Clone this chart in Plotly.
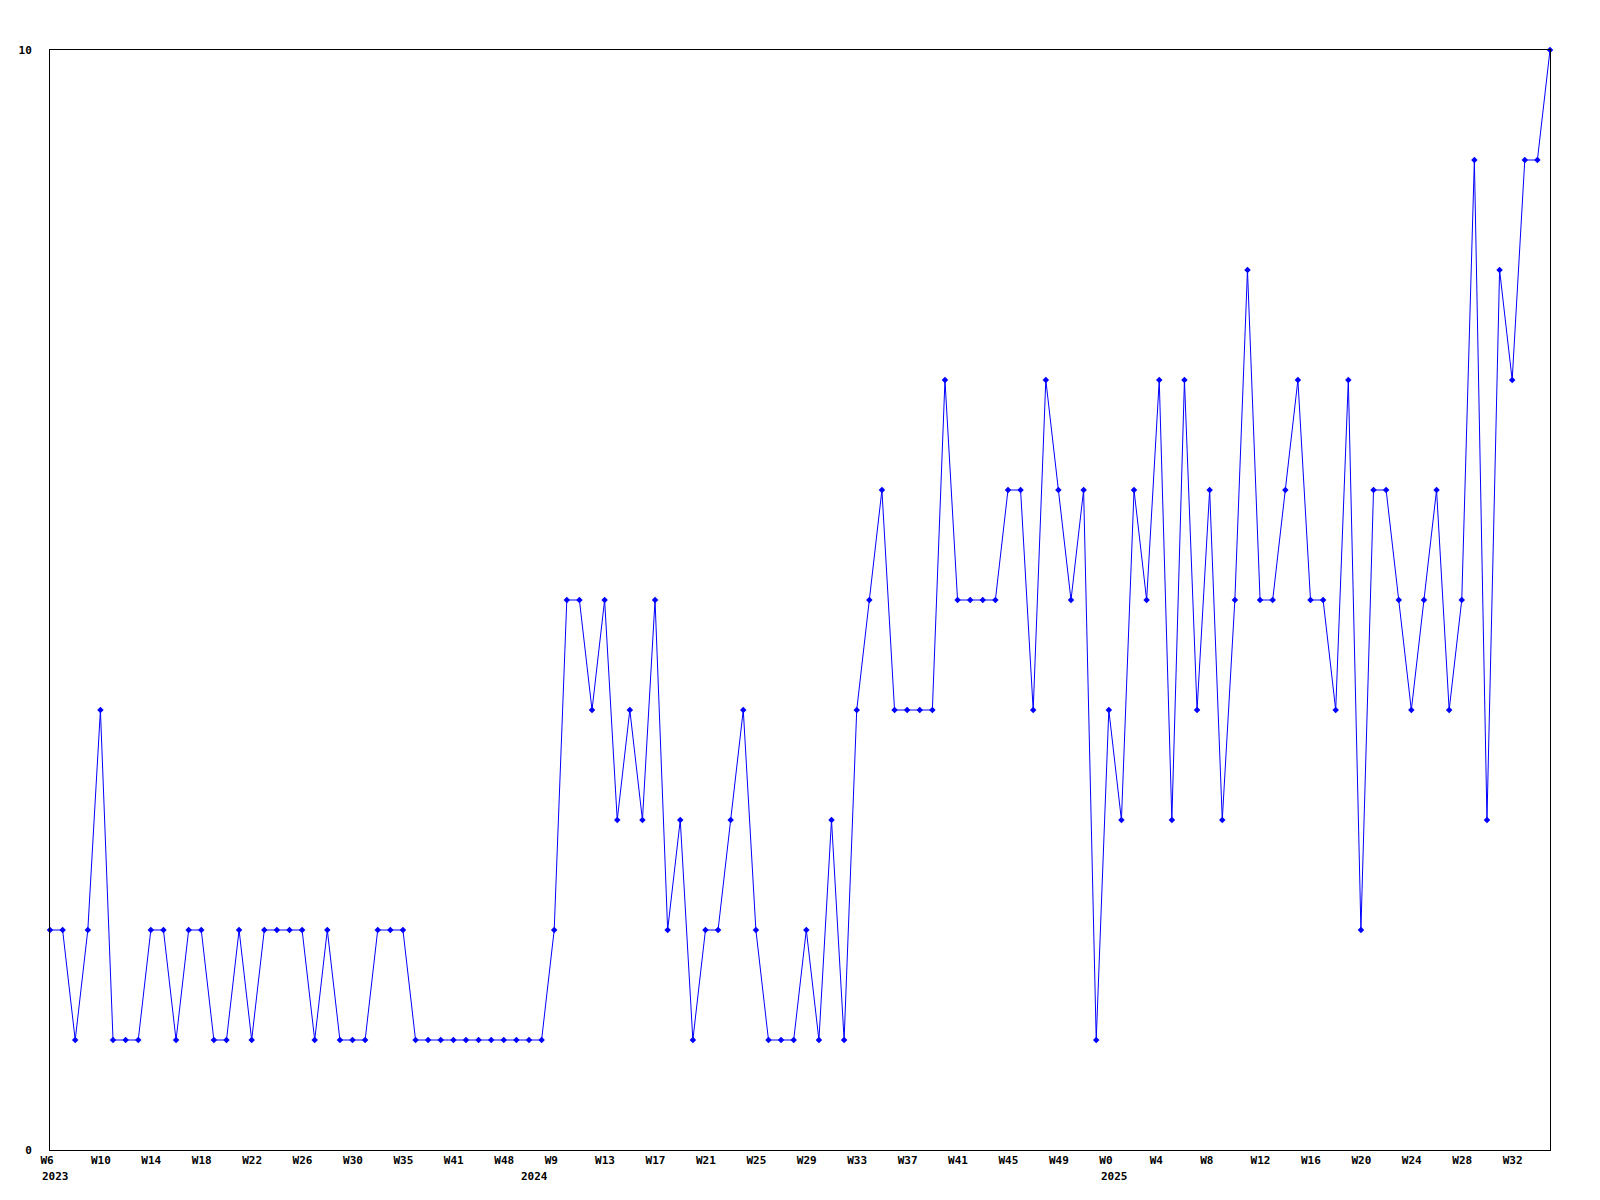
import plotly.graph_objects as go

values = [2, 2, 1, 2, 4, 1, 1, 1, 2, 2,
          1, 2, 2, 1, 1, 2, 1, 2, 2, 2,
          2, 1, 2, 1, 1, 1, 2, 2, 2, 1,
          1, 1, 1, 1, 1, 1, 1, 1, 1, 1,
          2, 5, 5, 4, 5, 3, 4, 3, 5, 2,
          3, 1, 2, 2, 3, 4, 2, 1, 1, 1,
          2, 1, 3, 1, 4, 5, 6, 4, 4, 4,
          4, 7, 5, 5, 5, 5, 6, 6, 4, 7,
          6, 5, 6, 1, 4, 3, 6, 5, 7, 3,
          7, 4, 6, 3, 5, 8, 5, 5, 6, 7,
          5, 5, 4, 7, 2, 6, 6, 5, 4, 5,
          6, 4, 5, 9, 3, 8, 7, 9, 9, 10]

tick_idx = [0, 4, 8, 12, 16, 20, 24, 28, 32, 36, 40, 44, 48, 52, 56, 60,
            64, 68, 72, 76, 80, 84, 88, 92, 96, 100, 104, 108, 112, 116]
tick_labels = ["W6", "W10", "W14", "W18", "W22", "W26", "W30", "W35", "W41", "W48",
               "W9", "W13", "W17", "W21", "W25", "W29", "W33", "W37", "W41", "W45",
               "W49", "W0", "W4", "W8", "W12", "W16", "W20", "W24", "W28", "W32"]
year_idx = [0, 38, 84]
year_labels = ["2023", "2024", "2025"]

x = list(range(len(values)))
font = dict(family="DejaVu Sans Mono", size=11, color="black", weight="bold")

fig = go.Figure()
fig.add_trace(go.Scatter(
    x=x, y=values, mode="lines+markers",
    line=dict(color="#0000ff", width=1),
    marker=dict(symbol="diamond", size=5, color="#0000ff"),
    cliponaxis=False, showlegend=False,
))

annotations = []
for xi, lab in zip(year_idx, year_labels):
    annotations.append(dict(
        x=xi, y=0, xref="x", yref="paper", text=lab, showarrow=False,
        xanchor="left", yanchor="top", xshift=-10, yshift=-18, font=font,
    ))

fig.update_layout(
    width=1584, height=1184,
    margin=dict(l=42, r=42, t=42, b=42, autoexpand=False),
    paper_bgcolor="white", plot_bgcolor="white",
    annotations=annotations,
    xaxis=dict(
        range=[0, len(values) - 1], tickmode="array", tickvals=tick_idx, ticktext=tick_labels,
        ticklabelposition="outside right", ticklabelshift=-10, tickangle=0,
        showgrid=False, zeroline=False, showline=True, mirror=True,
        linecolor="black", linewidth=1, ticks="", tickfont=font,
    ),
    yaxis=dict(
        range=[0, 10], tickmode="array", tickvals=[0, 10], ticktext=["0", "10"],
        showgrid=False, zeroline=False, showline=True, mirror=True,
        linecolor="black", linewidth=1, ticks="", tickfont=font, ticklabelstandoff=15,
    ),
)

fig.write_html("out.html")
